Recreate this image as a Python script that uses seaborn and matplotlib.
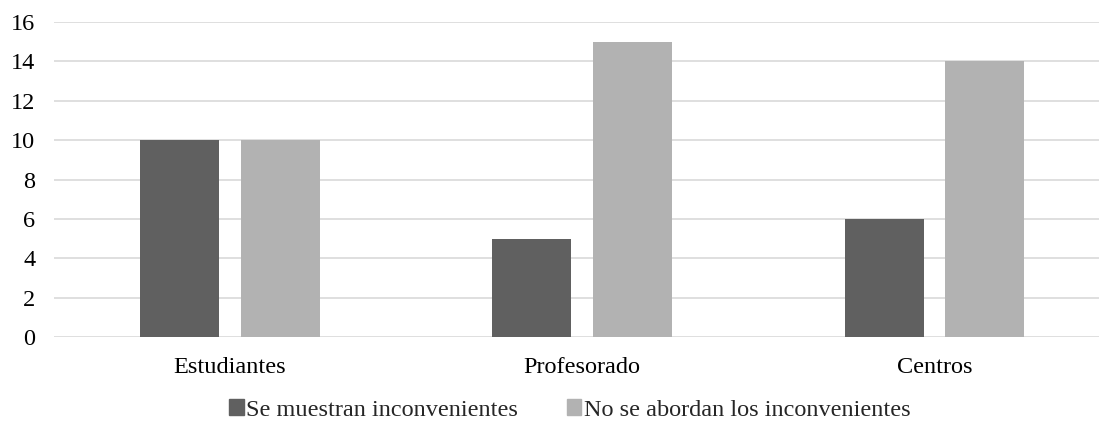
import pandas as pd
import matplotlib
matplotlib.use("Agg")
import matplotlib.pyplot as plt
import seaborn as sns

# datos del gráfico
categorias = ["Estudiantes", "Profesorado", "Centros"]
series = ["Se muestran inconvenientes", "No se abordan los inconvenientes"]
se_muestran = [10, 5, 6]
no_se_abordan = [10, 15, 14]
colores = ["#606060", "#b2b2b2"]

df = pd.DataFrame({
    "categoria": categorias * 2,
    "serie": [series[0]] * 3 + [series[1]] * 3,
    "valor": se_muestran + no_se_abordan,
})

sns.set_theme(style="white")
plt.rcParams["font.family"] = ["Liberation Serif", "DejaVu Serif"]

fig = plt.figure(figsize=(10.99, 4.24), dpi=100)
ax = fig.add_axes([0.0487, 0.205, 0.9513, 0.743])

sns.barplot(data=df, x="categoria", y="valor", hue="serie", palette=colores,
            width=0.572, gap=0.217, saturation=1, linewidth=0, ax=ax, legend=False)

ax.set_ylim(0, 16)
ax.set_xlim(-0.5, 2.467)
ax.set_yticks(range(0, 17, 2))
ax.yaxis.grid(True, color="#d9d9d9", linewidth=1.2)
ax.set_axisbelow(True)
for s in ax.spines.values():
    s.set_visible(False)
ax.tick_params(axis="both", length=0, labelsize=17.5, colors="black")
ax.tick_params(axis="y", pad=13)
ax.tick_params(axis="x", pad=14)
ax.set_xlabel("")
ax.set_ylabel("")

handles = [plt.Rectangle((0, 0), 1, 1, color=c) for c in colores]
fig.legend(handles, series, loc="center", bbox_to_anchor=(0.5187, 0.033), ncol=2,
           frameon=False, fontsize=17.5, handlelength=0.58, handleheight=0.58,
           handletextpad=0.12, columnspacing=2.0)

fig.savefig("out.png", dpi=100)
